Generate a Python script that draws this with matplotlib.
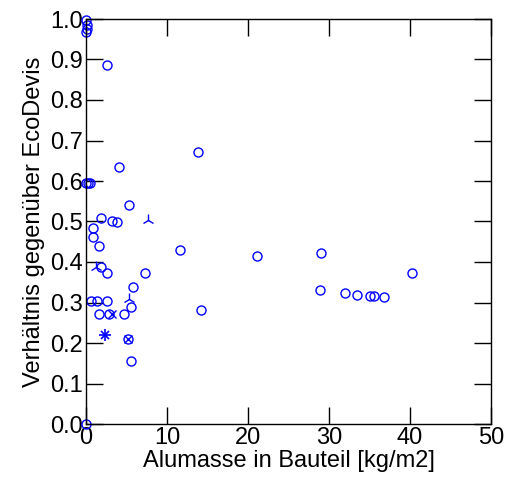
import matplotlib
matplotlib.use("Agg")
import matplotlib.pyplot as plt

plt.rcParams['font.family'] = ['Liberation Sans', 'DejaVu Sans']

# open circles
circ_x = [0.0, 0.1, 0.1, 0.0, 2.6, 0.0, 0.2, 0.5, 4.1, 13.8, 5.3, 1.8, 3.2, 3.8,
          0.9, 0.9, 1.6, 11.6, 1.8, 2.6, 7.3, 5.8, 0.6, 1.4, 2.6, 5.6, 1.6, 2.8,
          4.7, 5.6, 0.0, 21.1, 29.0, 40.3, 28.9, 32.0, 33.5, 35.1, 35.6, 36.8, 14.2,
          5.2]
circ_y = [0.997, 0.985, 0.975, 0.967, 0.886, 0.594, 0.594, 0.594, 0.634, 0.672, 0.540,
          0.508, 0.501, 0.499, 0.483, 0.461, 0.440, 0.430, 0.387, 0.372, 0.374, 0.338,
          0.304, 0.304, 0.304, 0.290, 0.272, 0.272, 0.272, 0.155, 0.000, 0.414, 0.422,
          0.373, 0.330, 0.323, 0.319, 0.315, 0.317, 0.314, 0.281, 0.209]
# tri_up markers
tri_x = [7.7, 1.2, 5.3]
tri_y = [0.504, 0.387, 0.308]
# x markers
x_x = [3.2, 5.2]
x_y = [0.272, 0.209]
# asterisk markers
star_x = [2.4]
star_y = [0.220]

fig = plt.figure(figsize=(5.06, 4.86), dpi=100)
ax = fig.add_axes([86/506, 1-424/486, (491-86)/506, (424-19)/486])

blue = '#0000ff'
ax.plot(circ_x, circ_y, marker='o', fillstyle='none', markeredgewidth=1.0,
        linestyle='none', color=blue, markersize=6.5, clip_on=False)
ax.plot(tri_x, tri_y, marker='2', markeredgewidth=1.0, markersize=9, linestyle='none',
        color=blue, clip_on=False)
ax.plot(x_x, x_y, marker='x', markeredgewidth=1.0, markersize=6, linestyle='none',
        color=blue, clip_on=False)
ax.plot(star_x, star_y, marker='+', markersize=8, linestyle='none', color=blue,
        markeredgewidth=1.2, clip_on=False)
ax.plot(star_x, star_y, marker='x', markersize=6, linestyle='none', color=blue,
        markeredgewidth=1.2, clip_on=False)

ax.set_xlim(0, 50)
ax.set_ylim(0, 1.0)
ax.set_xticks([0, 10, 20, 30, 40, 50])
ax.set_yticks([i / 10 for i in range(11)])
ax.set_yticklabels([f"{i/10:.1f}" for i in range(11)])
ax.tick_params(direction='in', length=12, width=1, top=True, right=True,
               labelsize=17, pad=2)
for s in ax.spines.values():
    s.set_linewidth(1.0)
ax.set_xlabel('Alumasse in Bauteil [kg/m2]', fontsize=17, labelpad=1)
ax.set_ylabel('Verhältnis gegenüber EcoDevis', fontsize=17, labelpad=4)

fig.savefig('out.png', dpi=100)
